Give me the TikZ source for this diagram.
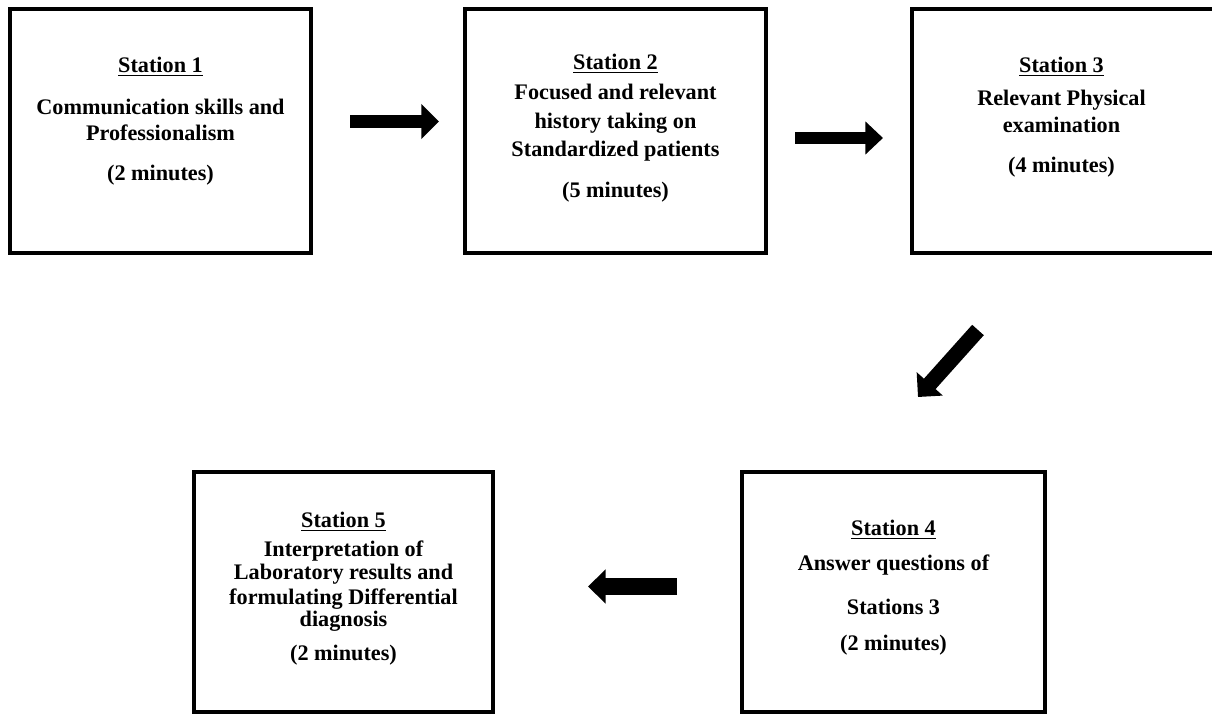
\documentclass[tikz,border=0pt]{standalone}
\usepackage{fontspec}
\setmainfont{Liberation Serif}
\usetikzlibrary{arrows.meta}

\begin{document}
\begin{tikzpicture}[x=0.025cm,y=-0.025cm,
  boite/.style 2 args={draw,line width=0.1cm,minimum width=#1,minimum height=#2,inner sep=0pt},
  texte/.style={font=\fontsize{15.8}{18.5}\selectfont\bfseries,align=center,inner sep=0pt,anchor=north},
  fleche/.style 2 args={line width=#1,-{Triangle[length=0.44cm,width=#2]}}]

% Cadre
\useasboundingbox (0,0) rectangle (1212,715);

% Stations du haut
\node[boite={7.525cm}{6.1cm}] (S1) at (160.5,131) {};
\node[boite={7.525cm}{6.1cm}] (S2) at (615.5,131) {};
\node[boite={7.55cm}{6.1cm}] (S3) at (1063,131) {};

% Stations du bas
\node[boite={7.575cm}{6cm}] (S4) at (893.5,592) {};
\node[boite={7.475cm}{6cm}] (S5) at (343.5,592) {};

% Textes
\node[texte] (T1) at (160.5,57) {\underline{Station 1}\\[0.4cm]
  Communication skills and\\ Professionalism\\[0.35cm] (2 minutes)};
\node[texte] (T2) at (615.5,54) {\underline{Station 2}\\[0.1cm]
  Focused and relevant\\[0.07cm] history taking on\\[0.05cm]
  Standardized patients\\[0.375cm] (5 minutes)};
\node[texte] (T3) at (1061.5,57) {\underline{Station 3}\\[0.175cm]
  Relevant Physical\\[0.025cm] examination\\[0.35cm] (4 minutes)};
\node[texte] (T4) at (893.5,520) {\underline{Station 4}\\[0.225cm]
  Answer questions of\\[0.45cm] Stations 3\\[0.25cm] (2 minutes)};
\node[texte] (T5) at (343.5,512) {\underline{Station 5}\\[0.075cm]
  Interpretation of\\[-0.075cm] Laboratory results and\\[-0.025cm]
  formulating Differential\\[-0.1cm] diagnosis\\[0.2cm] (2 minutes)};

% Fleches
\coordinate (A1) at (350,121.5);
\coordinate (B1) at (439,121.5);
\coordinate (A2) at (795,138);
\coordinate (B2) at (883,138);
\coordinate (A3) at (978,330);
\coordinate (B3) at (918,397);
\coordinate (A4) at (677,586.5);
\coordinate (B4) at (588,586.5);

\draw[fleche={0.325cm}{0.85cm}] (A1) -- (B1);
\draw[fleche={0.3cm}{0.8cm}] (A2) -- (B2);
\draw[fleche={0.39cm}{0.85cm}] (A3) -- (B3);
\draw[fleche={0.4cm}{0.83cm}] (A4) -- (B4);

\end{tikzpicture}
\end{document}
